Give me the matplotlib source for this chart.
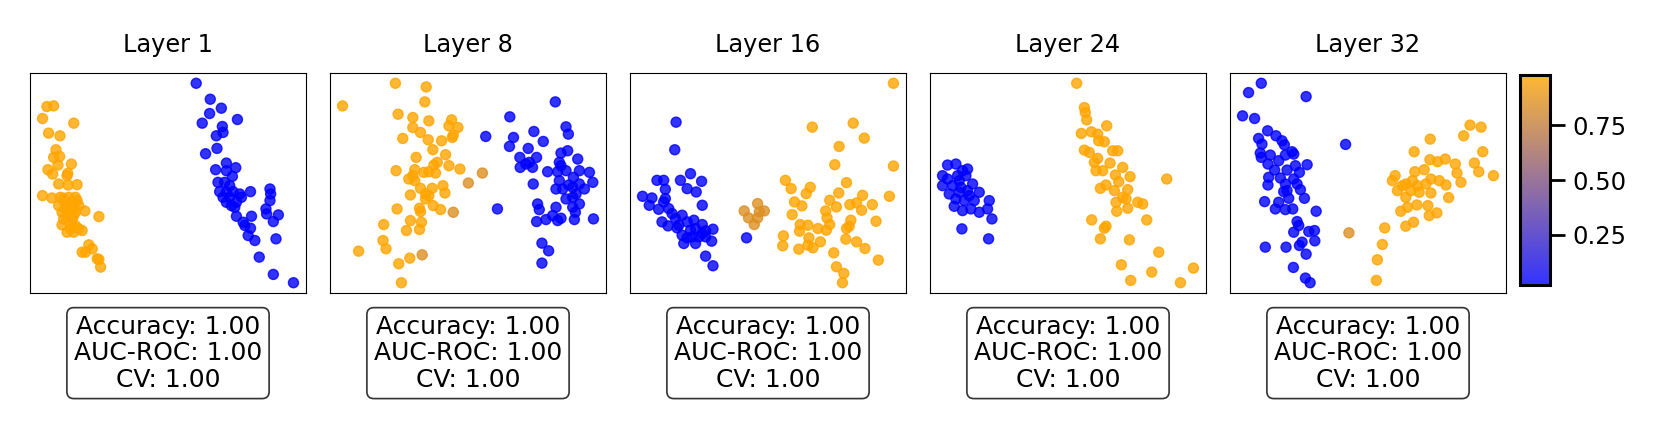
import numpy as np
import matplotlib
matplotlib.use("Agg")
import matplotlib.pyplot as plt
from matplotlib.colors import LinearSegmentedColormap

# projected activations per layer (PC1, PC2, arbitrary units)
# neg = class 0 (blue), pos = class 1 (orange), mid = less confident points
layers = [1, 8, 16, 24, 32]

L1_neg = [(510,52),(552,100),(585,127),(550,143),(633,161),(528,172),(588,182),(590,200),(570,210),
          (572,248),(538,264),(600,292),(628,306),(568,312),(600,315),(618,332),(575,350),(595,350),
          (610,360),(580,378),(600,380),(620,378),(640,385),(672,378),(730,370),(732,385),(730,405),
          (600,410),(615,420),(630,410),(645,395),(718,430),(720,445),(755,448),(740,468),(630,452),
          (675,452),(655,480),(672,488),(665,510),(685,525),(748,520),(698,575),(740,627),(800,652),
          (590,395),(610,395),(625,425),(650,470)]
L1_pos = [(65,122),(85,120),(52,158),(145,172),(70,202),(104,210),(92,252),(85,275),(103,272),(98,298),
          (138,295),(68,312),(82,325),(127,323),(125,330),(100,355),(128,358),(155,357),(52,390),(80,397),
          (105,395),(115,398),(130,395),(150,395),(155,405),(100,420),(120,415),(145,425),(178,436),
          (110,440),(130,440),(150,440),(115,460),(140,460),(220,453),(110,478),(135,475),(150,480),
          (125,500),(145,500),(170,495),(190,538),(200,550),(170,560),(180,560),(220,582),(225,605),
          (215,580),(120,430),(140,410),(160,420),(125,450),(145,450),(135,490),(160,490)]
L1_mid = []

L8_neg = [(688,108),(552,153),(720,183),(727,205),(480,212),(563,215),(624,197),(652,227),(551,242),
          (607,248),(725,255),(705,262),(582,275),(632,275),(755,280),(700,290),(610,290),(620,305),
          (583,305),(665,318),(695,318),(720,315),(760,315),(790,320),(742,335),(700,345),(800,350),
          (728,358),(760,355),(690,370),(710,370),(775,370),(622,355),(750,385),(740,395),(720,400),
          (760,415),(635,415),(740,425),(690,425),(640,432),(748,440),(515,430),(632,468),(660,462),
          (680,450),(695,465),(705,458),(745,462),(802,460),(648,533),(668,556),(648,593),(600,295),
          (705,300),(740,365)]
L8_pos = [(210,52),(302,63),(52,120),(298,108),(218,145),(262,155),(310,165),(378,162),(370,180),
          (397,185),(262,185),(285,200),(232,218),(308,222),(348,225),(380,215),(383,208),(322,252),
          (272,275),(360,267),(335,290),(325,298),(370,300),(403,310),(212,315),(268,312),(262,330),
          (295,320),(310,318),(330,322),(268,345),(285,368),(352,360),(358,382),(320,368),(310,390),
          (255,388),(300,385),(323,420),(215,430),(282,428),(285,438),(345,432),(255,465),(288,470),
          (243,495),(282,492),(175,477),(173,525),(182,550),(100,557),(253,578),(220,595),(228,652),
          (250,340),(300,400)]
L8_mid = [(470,322),(383,440),(428,352),(290,568)]

L16_neg = [(152,170),(148,253),(95,345),(115,345),(195,325),(165,345),(228,348),(120,372),(185,370),
           (212,380),(52,393),(80,398),(120,400),(72,420),(230,420),(100,432),(130,430),(140,445),
           (170,450),(110,470),(128,482),(205,465),(185,470),(230,478),(155,488),(210,490),(262,492),
           (240,497),(170,510),(185,518),(200,515),(220,515),(240,515),(258,528),(175,535),(210,535),
           (240,573),(262,602),(115,410),(150,460),(160,480),(195,495),(230,505),(362,518)]
L16_pos = [(800,53),(558,185),(680,173),(713,218),(638,243),(625,298),(800,302),(478,345),(495,370),
           (540,385),(552,366),(660,352),(637,383),(708,390),(788,393),(505,410),(527,422),(610,405),
           (630,425),(670,418),(690,413),(737,418),(705,435),(498,448),(598,437),(602,458),(610,478),
           (673,465),(748,468),(522,478),(545,480),(520,498),(575,490),(600,495),(660,490),(668,483),
           (472,512),(548,518),(582,530),(658,522),(690,530),(470,542),(518,552),(545,540),(560,548),
           (715,550),(622,563),(755,585),(630,605),(652,625),(648,653)]
L16_mid = [(355,437),(395,415),(415,437),(368,458),(395,458),(385,478),(400,440)]

L24_neg = [(65,298),(90,295),(50,330),(65,340),(110,315),(125,310),(50,360),(80,360),(100,345),
           (120,330),(140,355),(70,385),(100,380),(125,375),(160,380),(90,400),(115,405),(145,405),
           (190,405),(85,422),(110,435),(135,430),(160,440),(185,430),(198,460),(108,490),(188,520),
           (95,330),(130,390),(105,365)]
L24_pos = [(452,52),(475,125),(478,140),(482,162),(542,180),(496,198),(466,203),(515,205),(535,228),
           (518,225),(475,253),(490,260),(560,255),(575,255),(515,278),(505,290),(552,292),(590,305),
           (510,315),(530,315),(612,333),(568,328),(578,348),(722,340),(523,368),(540,358),(565,375),
           (605,372),(590,395),(600,400),(570,410),(635,410),(650,415),(572,437),(605,428),(497,463),
           (662,463),(540,482),(535,488),(523,520),(610,523),(698,560),(586,598),(677,620),(802,608),
           (614,645),(763,652)]
L24_mid = []

L32_neg = [(108,52),(70,80),(242,92),(52,150),(88,158),(127,195),(100,218),(110,235),(152,210),
           (170,225),(177,237),(360,236),(105,262),(135,268),(200,258),(205,265),(180,268),(160,285),
           (128,295),(245,297),(210,300),(148,313),(185,313),(222,320),(130,335),(165,337),(205,340),
           (128,358),(180,355),(215,355),(225,372),(175,378),(190,398),(237,398),(118,408),(160,410),
           (150,430),(180,432),(202,430),(272,437),(215,468),(220,480),(205,500),(250,498),(267,495),
           (230,530),(222,540),(268,526),(120,545),(182,545),(242,566),(204,606),(240,638),(254,652),
           (185,375),(108,275)]
L32_pos = [(732,178),(765,184),(713,210),(613,220),(770,258),(565,258),(612,282),(635,288),(658,280),
           (688,295),(745,292),(758,318),(802,330),(693,322),(567,318),(595,312),(508,330),(500,345),
           (540,355),(560,345),(615,340),(640,345),(660,358),(705,350),(515,375),(555,375),(580,380),
           (615,382),(668,396),(540,395),(573,418),(606,420),(525,437),(545,425),(610,450),(633,442),
           (540,482),(563,470),(477,487),(470,537),(455,583),(452,645),(600,355),(575,360),(530,360)]
L32_mid = [(370,502)]

neg_pts = [L1_neg, L8_neg, L16_neg, L24_neg, L32_neg]
pos_pts = [L1_pos, L8_pos, L16_pos, L24_pos, L32_pos]
mid_pts = [L1_mid, L8_mid, L16_mid, L24_mid, L32_mid]

# predicted probability of class 1
p_neg = 0.02
p_pos = 0.98
p_mid = 0.85

accuracy = [1.00, 1.00, 1.00, 1.00, 1.00]
auc_roc = [1.00, 1.00, 1.00, 1.00, 1.00]
cv = [1.00, 1.00, 1.00, 1.00, 1.00]

cmap = LinearSegmentedColormap.from_list("bo", ["blue", "orange"])
vmin, vmax = p_neg, p_pos

fig = plt.figure(figsize=(16.64, 4.24), dpi=100)
W, H = 1664, 424
sc = None
for i, layer in enumerate(layers):
    left = 30 + 300 * i
    ax = fig.add_axes([left / W, 1 - 292.7 / H, 276 / W, 219.4 / H])
    xs, ys, cs = [], [], []
    for pts, p in [(neg_pts[i], p_neg), (pos_pts[i], p_pos), (mid_pts[i], p_mid)]:
        for (x, y) in pts:
            xs.append(x)
            ys.append(-y)
            cs.append(p)
    sc = ax.scatter(xs, ys, c=cs, cmap=cmap, vmin=vmin, vmax=vmax, s=52, alpha=0.8)
    ax.set_xticks([])
    ax.set_yticks([])
    ax.set_title(f"Layer {layer}", fontsize=17.3, pad=15)
    txt = f"Accuracy: {accuracy[i]:.2f}\nAUC-ROC: {auc_roc[i]:.2f}\nCV: {cv[i]:.2f}"
    ax.text(0.5, -0.10, txt, transform=ax.transAxes, ha="center", va="top",
            multialignment="center", fontsize=18, linespacing=1.13,
            bbox=dict(boxstyle="round,pad=0.28", facecolor="white", edgecolor="0.2", linewidth=1.2))

cax = fig.add_axes([1520 / W, 1 - 285 / H, 30 / W, 210 / H])
cb = fig.colorbar(sc, cax=cax)
cb.set_ticks([0.25, 0.5, 0.75])
cb.outline.set_linewidth(2.2)
cax.tick_params(length=11, width=2, labelsize=17.5, pad=5)

fig.savefig("out.png", dpi=100, facecolor="white")
